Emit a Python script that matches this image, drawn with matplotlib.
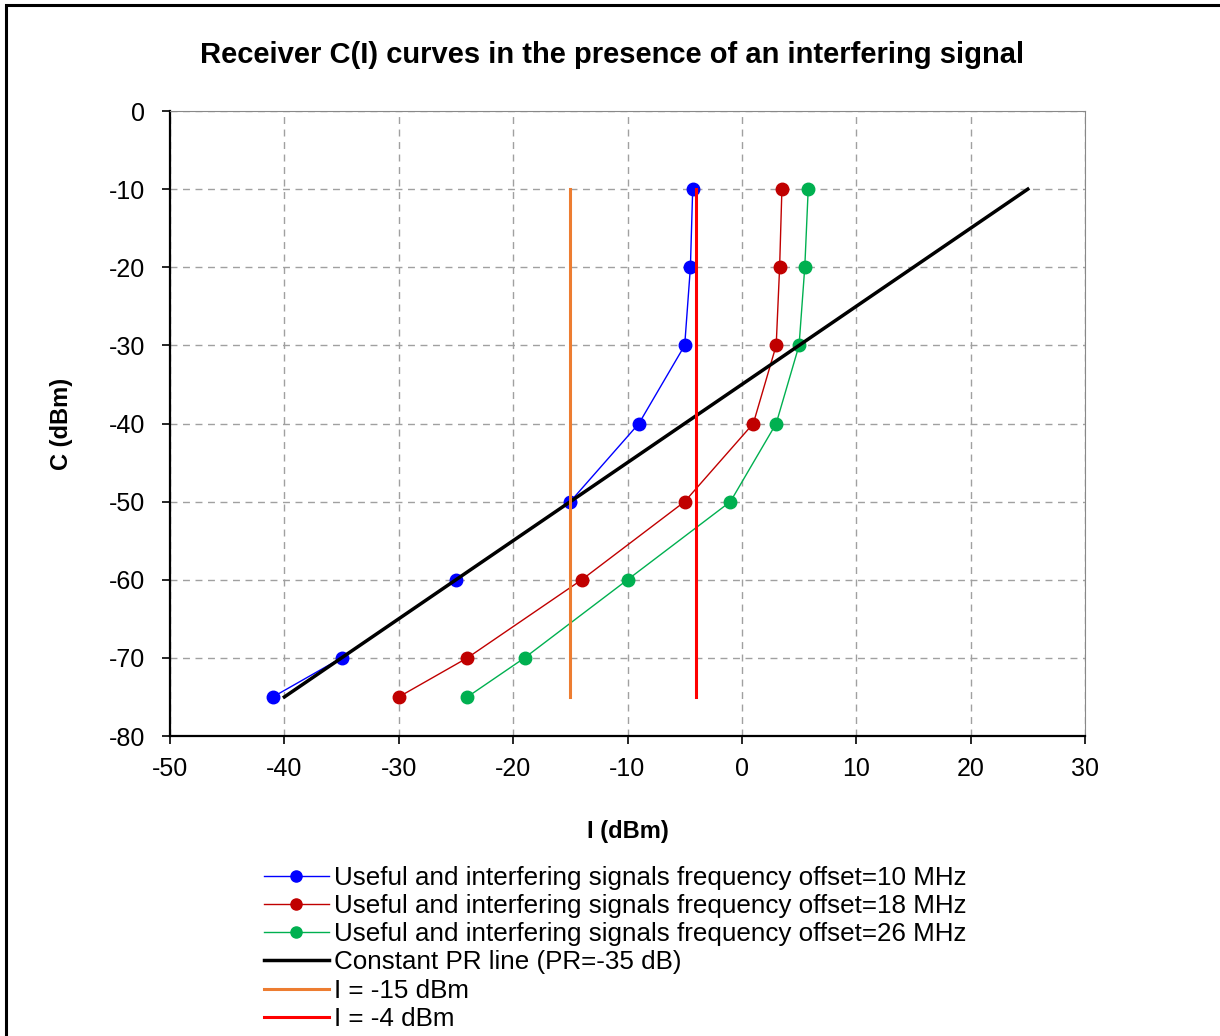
import matplotlib
matplotlib.use("Agg")
import matplotlib.pyplot as plt
from matplotlib.patches import Rectangle

# series: I (dBm) vs C (dBm)
C_levels = [-10, -20, -30, -40, -50, -60, -70, -75]
I_10MHz = [-4.3, -4.5, -5.0, -9.0, -15.0, -25.0, -35.0, -41.0]
I_18MHz = [3.5, 3.3, 3.0, 1.0, -5.0, -14.0, -24.0, -30.0]
I_26MHz = [5.8, 5.5, 5.0, 3.0, -1.0, -10.0, -19.0, -24.0]

PR = -35.0
pr_I = [-40, 25]
pr_C = [i + PR for i in pr_I]

vert_C = [-75, -10]
I_orange = -15
I_red = -4

labels = [
    "Useful and interfering signals frequency offset=10 MHz",
    "Useful and interfering signals frequency offset=18 MHz",
    "Useful and interfering signals frequency offset=26 MHz",
    "Constant PR line (PR=-35 dB)",
    "I = -15 dBm",
    "I = -4 dBm",
]

plt.rcParams["font.family"] = ["Liberation Sans", "DejaVu Sans"]
plt.rcParams["axes.unicode_minus"] = False

fig = plt.figure(figsize=(12.2, 10.36), dpi=100)
fig.patch.set_facecolor("white")
# outer chart border (only top/left visible in the reference crop)
fig.add_artist(Rectangle((6 / 1220, -0.05), 1.2, 1 - 5 / 1036 + 0.05,
                         transform=fig.transFigure, fill=False,
                         edgecolor="black", lw=2.2))

ax = fig.add_axes([170 / 1220, 1 - 736 / 1036, 915 / 1220, 625 / 1036])

ms = 9
ax.plot(I_10MHz, C_levels, "-o", color="#0000FF", lw=1.0, ms=ms, label=labels[0], zorder=4)
ax.plot(I_18MHz, C_levels, "-o", color="#C00000", lw=1.0, ms=ms, label=labels[1], zorder=4)
ax.plot(I_26MHz, C_levels, "-o", color="#00B050", lw=1.0, ms=ms, label=labels[2], zorder=4)
ax.plot(pr_I, pr_C, "-", color="black", lw=2.5, label=labels[3], zorder=5)
ax.plot([I_orange] * 2, vert_C, "-", color="#ED7D31", lw=2.2, label=labels[4], zorder=5)
ax.plot([I_red] * 2, vert_C, "-", color="#FF0000", lw=2.2, label=labels[5], zorder=5)

ax.set_xlim(-50, 30)
ax.set_ylim(-80, 0)
ax.set_xticks(range(-50, 31, 10))
ax.set_yticks(range(-80, 1, 10))
ax.grid(True, color="#A0A0A0", ls=(0, (5, 4)), lw=1.0)
ax.set_axisbelow(True)
ax.tick_params(labelsize=18, length=6, width=1.2, color="black", pad=9)
ax.tick_params(axis="y", pad=12)
for s in ("top", "right"):
    ax.spines[s].set_color("#888888")
for s in ("left", "bottom"):
    ax.spines[s].set_color("black")
    ax.spines[s].set_linewidth(1.6)

ax.set_xlabel("I (dBm)", fontsize=17, fontweight="bold", labelpad=28)
ax.set_ylabel("C (dBm)", fontsize=17, fontweight="bold", labelpad=26)

fig.text(0.502, 1 - 55 / 1036, "Receiver C(I) curves in the presence of an interfering signal",
         ha="center", va="center", fontsize=21, fontweight="bold")

leg = fig.legend(loc="upper left", bbox_to_anchor=(264 / 1220, 1 - 866 / 1036),
                 frameon=False, handlelength=2.5, handletextpad=0.2,
                 labelspacing=0.16, borderaxespad=0, borderpad=0,
                 prop={"size": 18.7})
for h in leg.legend_handles:
    h.set_markersize(8)

fig.savefig("out.png", dpi=100, facecolor="white")
